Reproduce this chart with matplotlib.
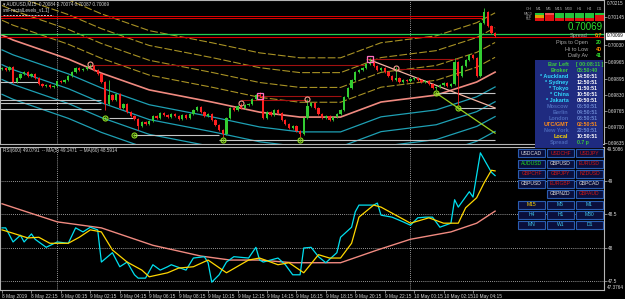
import numpy as np
import matplotlib.pyplot as plt
import matplotlib.transforms as mtransforms
from matplotlib.patches import Rectangle

plt.rcParams['font.family'] = ['Liberation Sans', 'DejaVu Sans']

PT = 1e-5

# AUDUSD M15 closes in points, bar 0 = 8 May 20:15
first_open = 69935
closes = [69939, 69931, 69943, 69882, 69898, 69914, 69922, 69906, 69914, 69898,
          69874, 69866, 69870, 69862, 69866, 69886, 69882, 69890, 69906, 69922,
          69939, 69931, 69935, 69943, 69947, 69931, 69914, 69882, 69793, 69829,
          69809, 69833, 69777, 69793, 69760, 69744, 69732, 69704, 69720, 69712,
          69724, 69744, 69736, 69756, 69748, 69740, 69752, 69744, 69732, 69748,
          69736, 69752, 69769, 69781, 69760, 69744, 69752, 69728, 69708, 69688,
          69671, 69736, 69777, 69769, 69785, 69777, 69789, 69793, 69813, 69829,
          69825, 69736, 69760, 69748, 69769, 69756, 69728, 69712, 69696, 69704,
          69683, 69671, 69736, 69785, 69797, 69777, 69752, 69736, 69744, 69728,
          69740, 69752, 69769, 69821, 69858, 69890, 69922, 69931, 69939, 69955,
          69963, 69947, 69931, 69939, 69922, 69906, 69890, 69898, 69882, 69890,
          69886, 69894, 69898, 69890, 69882, 69886, 69874, 69858, 69862, 69870,
          69878, 69866, 69874, 69963, 69906, 69947, 69971, 69991, 69979, 69906,
          70121, 70165, 70109, 70080, 70068]
high_wicks = {24: 69955, 29: 69890, 65: 69797, 70: 69841, 83: 69813,
              100: 69979, 107: 69943, 123: 69979, 131: 70182}
low_wicks = {28: 69769, 37: 69688, 60: 69659, 81: 69659, 118: 69850, 124: 69789}

# salmon moving average of the price channel
ma_idx = [0, 3, 18, 27, 40, 57, 70, 81, 92, 103, 118, 129, 134]
ma_vals = [70072, 70052, 69975, 69918, 69850, 69801, 69760, 69740, 69740,
           69801, 69829, 69882, 69922]
band_offsets = [0.0006, 0.0012, 0.0018, 0.0024]

red_top_levels = [0.70150, 0.70140]
bid_level = 0.70076
ask_level = 0.70066
resist_levels = [(0.69951, 24, 99), (0.69975, 99, 124), (0.69935, 106, 124),
                 (0.69825, 69, 92), (0.69809, 65, 83)]
support_levels = [(0.69882, -1, 10), (0.69809, -1, 27), (0.69797, -1, 27),
                  (0.69773, -1, 27), (0.69736, 29, 36), (0.69667, 36, 59),
                  (0.69647, 59, 134), (0.69837, 118, 134), (0.69777, 124, 134)]
trend_salmon = ([100, 134], [0.69971, 0.69777])
trend_green = ([118, 134], [0.69837, 0.69675])
low_marks = [(28, 0.69736), (36, 0.69667), (60, 0.69647), (81, 0.69647),
             (118, 0.69837), (124, 0.69777)]
high_circles = [(24, 0.69955), (65, 0.69797), (83, 0.69813), (107, 0.69939)]
high_squares = [(70, 0.69825), (100, 0.69975)]

top_price_label = '0.70215'
price_ticks = [0.70145, 0.70030, 0.69965, 0.69895, 0.69830,
               0.69765, 0.69700, 0.69635]
last_price = 0.70069

# RSI(600) window
rsi_idx = [0, 1, 3, 5, 6, 8, 9, 12, 15, 18, 20, 22, 24, 26, 27, 30, 32, 34, 36, 37,
           39, 41, 43, 45, 46, 50, 52, 55, 56, 57, 59, 61, 63, 67, 69, 70, 71, 75, 77, 79,
           81, 82, 84, 86, 88, 91, 92, 95, 96, 97, 101, 102, 103, 106, 109, 111, 113, 115,
           117, 119, 122, 123, 124, 127, 128, 130, 133, 134]
rsi_vals = [48.30, 48.30, 48.09, 48.19, 48.09, 48.21, 48.13, 48.01, 48.09, 48.07,
            48.30, 48.24, 48.31, 48.27, 47.79, 47.93, 47.72, 47.79, 47.60, 47.55,
            47.55, 47.75, 47.67, 47.72, 47.75, 47.67, 47.85, 47.87, 47.78, 47.49,
            47.60, 47.79, 47.87, 47.85, 48.01, 47.82, 47.79, 47.85, 47.75, 47.60,
            47.60, 48.00, 48.01, 47.87, 47.78, 47.93, 48.16, 48.31, 48.54, 48.64,
            48.64, 48.67, 48.49, 48.46, 48.39, 48.34, 48.45, 48.46, 48.46, 48.31,
            48.37, 48.72, 48.61, 48.84, 48.76, 49.42, 49.13, 49.08]
ma5_idx = [0, 3, 7, 10, 13, 18, 21, 24, 27, 30, 34, 38, 40, 45, 48, 52, 56, 61, 67, 70,
           75, 78, 82, 86, 89, 92, 95, 97, 101, 103, 111, 116, 120, 124, 126, 129, 131,
           133, 134]
ma5_vals = [48.27, 48.22, 48.15, 48.16, 48.07, 48.07, 48.16, 48.27, 48.24, 47.97,
            47.79, 47.67, 47.57, 47.63, 47.70, 47.72, 47.82, 47.63, 47.82, 47.85,
            47.75, 47.78, 47.63, 47.90, 47.85, 47.85, 48.07, 48.46, 48.64, 48.61,
            48.37, 48.45, 48.37, 48.37, 48.60, 48.75, 48.97, 49.16, 49.15]
ma60_idx = [0, 15, 27, 41, 54, 62, 70, 79, 92, 102, 111, 122, 129, 134]
ma60_vals = [48.66, 48.39, 48.30, 48.04, 47.88, 47.82, 47.82, 47.78, 47.78,
             47.97, 48.13, 48.24, 48.37, 48.55]
rsi_levels = [49, 48.5, 48, 47.5]

day_breaks = [15, 111]
time_pos = list(range(0, 129, 8))
time_labels = ["8 May 2019", "8 May 22:15", "9 May 00:15", "9 May 02:15", "9 May 04:15",
               "9 May 06:15", "9 May 08:15", "9 May 10:15", "9 May 12:15", "9 May 14:15",
               "9 May 16:15", "9 May 18:15", "9 May 20:15", "9 May 22:15", "10 May 00:15",
               "10 May 02:15", "10 May 04:15"]

W, H = 625, 299
fig = plt.figure(figsize=(W / 100, H / 100), dpi=100, facecolor='black')
ax1 = fig.add_axes([0, 1 - 144 / H, 604 / W, 144 / H], facecolor='black')
ax2 = fig.add_axes([0, 1 - 290 / H, 604 / W, 143 / H], facecolor='black')
FRAME = '#b4b4b4'
TXT = '#d8d8d8'
for ax in (ax1, ax2):
    ax.set_xlim(-0.55, 163.6)
    for s in ax.spines.values():
        s.set_color(FRAME)
        s.set_linewidth(0.8)
    ax.yaxis.tick_right()
    ax.tick_params(axis='y', colors=FRAME, labelcolor=TXT, labelsize=3.4,
                   length=2, width=0.5, pad=1)
    for d in day_breaks:
        ax.axvline(d, color='#c8c8c8', lw=0.6, ls=(0, (1, 1.5)), zorder=1)

# ---- main price panel
ax1.set_ylim(0.69631, 0.70214)
ax1.tick_params(axis='x', bottom=False, labelbottom=False)
ax1.set_yticks(price_ticks)
ax1.set_yticklabels(['%.5f' % p for p in price_ticks])

mx = np.array(ma_idx)
my = np.array(ma_vals) * PT
for k in band_offsets:
    ax1.plot(mx, my + k, color='#a89224', lw=0.8, ls=(0, (7, 2)), zorder=2)
    ax1.plot(mx, my - k, color='#1ea0b4', lw=0.9, zorder=2)
ax1.plot(mx, my, color='#f08a80', lw=1.2, zorder=2)

for p in red_top_levels:
    ax1.hlines(p, -1, 131, color='#e00000', lw=0.7, zorder=2)
ax1.axhline(bid_level, color='#20d050', lw=0.9, zorder=2)
ax1.axhline(ask_level, color='#e00000', lw=0.8, zorder=2)
for p, a, b in resist_levels:
    ax1.hlines(p, a, b, color='#a01010', lw=0.8, zorder=2)
for p, a, b in support_levels:
    ax1.hlines(p, a, b, color='#c4c4c4', lw=0.8, zorder=2)
ax1.plot(*trend_salmon, color='#f6b4a4', lw=0.9, zorder=3)
ax1.plot(*trend_green, color='#9ad020', lw=0.9, zorder=3)

n = len(closes)
xi = np.arange(n)
c = np.array(closes) * PT
o = np.array([first_open] + closes[:-1]) * PT
hi = np.maximum(o, c) + 3 * PT
lo = np.minimum(o, c) - 3 * PT
for i, v in high_wicks.items():
    hi[i] = v * PT
for i, v in low_wicks.items():
    lo[i] = v * PT
cols = np.where(c >= o, '#32cd32', '#ff2020')
ax1.vlines(xi, lo, hi, colors=cols, lw=0.6, zorder=4)
ax1.bar(xi, np.maximum(np.abs(c - o), 1.5 * PT), bottom=np.minimum(o, c),
        width=0.62, color=cols, lw=0, zorder=5)

for i, p in low_marks:
    ax1.plot(i, p, 'o', ms=3.6, mfc='none', mec='#8ee020', mew=0.8, zorder=6)
    ax1.plot(i, p, '.', ms=1.5, color='#8ee020', zorder=6)
for i, p in high_circles:
    ax1.plot(i, p, 'o', ms=3.6, mfc='none', mec='#f4a090', mew=0.8, zorder=6)
for i, p in high_squares:
    ax1.plot(i, p, 's', ms=4.2, mfc='none', mec='#ff70c0', mew=0.9, zorder=6)

bt = mtransforms.blended_transform_factory(ax1.transAxes, ax1.transData)
ax1.text(1.004, last_price, '%.5f' % last_price, transform=bt, fontsize=3.4,
         color='black', va='center', ha='left',
         bbox=dict(boxstyle='square,pad=0.15', fc='white', ec='white'))

# ---- RSI panel
ax2.set_ylim(47.373, 49.507)
for lv in rsi_levels:
    ax2.axhline(lv, color='#c8c8c8', lw=0.6, ls=(0, (1, 1.5)), zorder=1)
ax2.set_yticks(rsi_levels)
ax2.set_yticklabels(['49', '48.5', '48', '47.5'])
ax2.plot(ma60_idx, ma60_vals, color='#f08a80', lw=1.0, zorder=3)
ax2.plot(rsi_idx, rsi_vals, color='#00e0f0', lw=0.9, zorder=4)
ax2.plot(ma5_idx, ma5_vals, color='#ffd700', lw=0.9, zorder=5)
ax2.set_xticks(time_pos)
ax2.set_xticklabels(time_labels, ha='left')
ax2.tick_params(axis='x', colors=FRAME, labelcolor=TXT, labelsize=3.4,
                length=2, width=0.5, pad=1)
ax2.text(1.004, 1.0, '49.5086', transform=ax2.transAxes, fontsize=3.3,
         color=TXT, va='top', ha='left')
ax2.text(1.004, 0.0, '47.3764', transform=ax2.transAxes, fontsize=3.3,
         color=TXT, va='bottom', ha='left')

# ---- overlay in pixel space for the on-chart panels and labels
ov = fig.add_axes([0, 0, 1, 1], zorder=10)
ov.set_xlim(0, W)
ov.set_ylim(H, 0)
ov.set_facecolor('none')
ov.axis('off')

ov.text(607, 3.2, top_price_label, fontsize=3.3, color=TXT, va='center', ha='left')
ov.text(3, 4, '\u25be AUDUSD,M15  0.70084 0.70074 0.70087 0.70069', fontsize=3.3,
        color=TXT, va='center', ha='left')
ov.text(3, 10.5, 'smFractalLevels_v1.1]', fontsize=3.3, color=TXT, va='center')
ov.plot([3, 53], [15, 15], color='#c0c0c0', lw=0.7, ls=(0, (2, 1.2)))
ov.text(3, 150.5, 'RSI(600) 49.0791  -- MA(5) 49.1471  -- MA(60) 48.5914',
        fontsize=3.3, color=TXT, va='center')

# timeframe strength grid
tf_names = ['M1', 'M5', 'M15', 'M30', 'H1', 'H4', 'D1']
row_names = ['MACD', 'STR', 'FILL']
G, R, O, S = '#22c43a', '#e01010', '#e0a000', '#f05050'
grid_colors = [[G, S, G, G, G, G, G],
               [O, R, G, G, G, G, R],
               [R, R, R, R, R, R, R]]
ov.text(529, 8.5, 'CH', fontsize=3.0, color='#a0a0a0', ha='center', va='center')
for j, t in enumerate(tf_names):
    ov.text(539 + 10 * j, 8.5, t, fontsize=3.0, color='#a0a0a0', ha='center', va='center')
for r, name in enumerate(row_names):
    ov.text(532, 13.8 + 2.8 * r, name, fontsize=2.2, color='#a0a0a0', ha='right', va='center')
    for j in range(7):
        ov.add_patch(Rectangle((534.5 + 10 * j, 12.6 + 2.8 * r), 9, 2.4,
                               fc=grid_colors[r][j], ec='none'))

ov.text(603, 27.5, '0.70069', fontsize=7, color='#30e030', ha='right', va='center')
info_rows = [('Spread', '0.7', '#ff8c00'), ('Pips to Open', '20', '#30e030'),
             ('Hi to Low', '40', '#ff8c00'), ('Daily Av', '41', '#30e030')]
for r, (lab, val, vc) in enumerate(info_rows):
    y = 35.5 + 6.8 * r
    ov.text(588, y, lab, fontsize=4.0, color='#a8a8a8', ha='right', va='center')
    ov.text(602, y, val, fontsize=3.8, color=vc, ha='right', va='center',
            fontweight='bold')

# world clock panel
ov.add_patch(Rectangle((535, 60), 68, 87.5, fc='#1f2b80', ec='none'))
CY, DIM, DIMV = '#30d8ff', '#4a66b8', '#6a86d0'
clock_rows = [('Bar Left', '[ 00:08:11 ]', '#3cc83c', '#3cc83c'),
              ('Broker', '05:50:40', '#3cc83c', '#3cc83c'),
              ('* Auckland', '14:50:51', CY, 'white'),
              ('* Sydney', '12:50:51', CY, 'white'),
              ('* Tokyo', '11:50:51', CY, 'white'),
              ('* China', '10:50:51', CY, 'white'),
              ('* Jakarta', '09:50:51', CY, 'white'),
              ('Moscow', '06:50:51', DIM, DIMV),
              ('Berlin', '04:50:51', DIM, DIMV),
              ('London', '03:50:51', DIM, DIMV),
              ('UTC/GMT', '02:50:51', '#ff8c1a', '#ff8c1a'),
              ('New York', '22:50:51', DIM, DIMV),
              ('Local', '10:50:51', '#ffd700', 'white'),
              ('Spread', '0.7 p', DIM, '#3cc83c')]
for r, (lab, val, lc, vc) in enumerate(clock_rows):
    y = 64.8 + 6.0 * r
    ov.text(568.5, y, lab, fontsize=4.0, color=lc, ha='right', va='center',
            fontweight='bold')
    ov.text(577 if r else 576, y, val, fontsize=3.7, color=vc, ha='left', va='center',
            fontweight='bold')

# symbol / timeframe buttons
WH, RD, GR, YL, TC = '#e0e0e0', '#d01818', '#20e020', '#ffd700', '#40c8e8'
buttons = [[('USDCAD', WH), ('USDCHF', RD), ('USDJPY', RD)],
           [('AUDUSD', GR), ('GBPUSD', WH), ('EURUSD', RD)],
           [('GBPCHF', RD), ('GBPJPY', RD), ('NZDUSD', RD)],
           [('GBPUSD', WH), ('EURGBP', RD), ('GBPCAD', WH)],
           [None, ('GBPNZD', WH), ('GBPAUD', RD)],
           [('M15', YL), ('M5', TC), ('M1', TC)],
           [('H4', TC), ('H1', TC), ('M30', TC)],
           [('MN', TC), ('W1', TC), ('D1', TC)]]
row_tops = [149, 159.5, 169.5, 179.5, 189.5, 200.5, 210.5, 220.5]
col_left = [518, 547, 576]
for r, row in enumerate(buttons):
    for j, b in enumerate(row):
        if b is None:
            continue
        x0, y0 = col_left[j], row_tops[r]
        ov.add_patch(Rectangle((x0, y0), 27, 8, fc='#0a0f3c', ec='#2a5cb0', lw=0.8))
        ov.text(x0 + 13.5, y0 + 4.2, b[0], fontsize=3.6, color=b[1],
                ha='center', va='center')

fig.savefig('out.png', dpi=100, facecolor='black')
